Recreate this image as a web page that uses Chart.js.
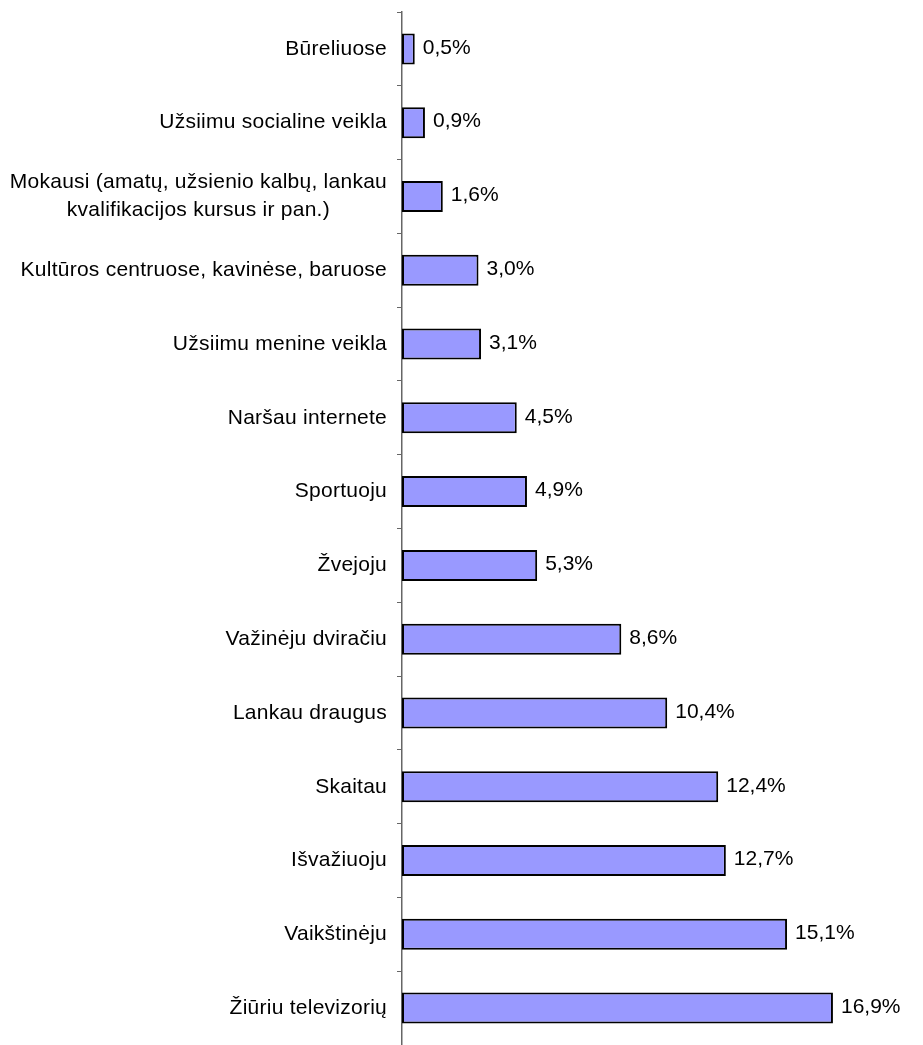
<!DOCTYPE html>
<html>
<head>
<meta charset="utf-8">
<script src="https://cdn.jsdelivr.net/npm/chart.js@4"></script>
<style>
  html, body { margin: 0; padding: 0; background: #fff; }
  #wrap { width: 923px; height: 1045px; }
</style>
</head>
<body>
<div id="wrap"><canvas id="activityChart"></canvas></div>
<script>
// categories, top to bottom
const categories = [
  ["Būreliuose"],
  ["Užsiimu socialine veikla"],
  ["Mokausi (amatų, užsienio kalbų, lankau", "kvalifikacijos kursus ir pan.)"],
  ["Kultūros centruose, kavinėse, baruose"],
  ["Užsiimu menine veikla"],
  ["Naršau internete"],
  ["Sportuoju"],
  ["Žvejoju"],
  ["Važinėju dviračiu"],
  ["Lankau draugus"],
  ["Skaitau"],
  ["Išvažiuoju"],
  ["Vaikštinėju"],
  ["Žiūriu televizorių"]
];
const shares = [0.5, 0.9, 1.6, 3.0, 3.1, 4.5, 4.9, 5.3, 8.6, 10.4, 12.4, 12.7, 15.1, 16.9];

const FONT = "21px 'Liberation Sans', Arial, sans-serif";

// category labels, each line centred in its block like the original
const categoryLabels = {
  id: "categoryLabels",
  afterDraw(chart) {
    const ctx = chart.ctx;
    const yScale = chart.scales.y;
    const right = yScale.right - 15;
    ctx.save();
    ctx.font = FONT;
    ctx.letterSpacing = "0.25px";
    ctx.fillStyle = "#000";
    ctx.textBaseline = "middle";
    ctx.textAlign = "center";
    categories.forEach((lines, i) => {
      const y = yScale.getPixelForValue(i);
      let w = 0;
      lines.forEach(l => { w = Math.max(w, ctx.measureText(l).width); });
      const cx = right - w / 2;
      const lh = 28;
      const y0 = y - (lines.length - 1) * lh / 2;
      lines.forEach((l, j) => ctx.fillText(l, cx, y0 + j * lh));
    });
    ctx.restore();
  }
};

// value labels after each bar
const valueLabels = {
  id: "valueLabels",
  afterDatasetsDraw(chart) {
    const ctx = chart.ctx;
    const meta = chart.getDatasetMeta(0);
    ctx.save();
    ctx.font = FONT;
    ctx.fillStyle = "#000";
    ctx.textBaseline = "middle";
    ctx.textAlign = "left";
    meta.data.forEach((bar, i) => {
      const txt = shares[i].toFixed(1).replace(".", ",") + "%";
      ctx.fillText(txt, bar.x + 8, bar.y - 1);
    });
    ctx.restore();
  }
};

new Chart(document.getElementById("activityChart"), {
  type: "bar",
  data: {
    labels: categories.map(c => c.join(" ")),
    datasets: [{
      data: shares,
      backgroundColor: "#9999ff",
      borderColor: "#000",
      borderWidth: 2,
      borderSkipped: false,
      categoryPercentage: 1,
      barPercentage: 0.42
    }]
  },
  options: {
    indexAxis: "y",
    responsive: true,
    maintainAspectRatio: false,
    animation: false,
    layout: { padding: { top: 12, right: 11, bottom: 0, left: 0 } },
    plugins: {
      legend: { display: false },
      tooltip: { enabled: false }
    },
    scales: {
      x: {
        display: false,
        min: 0,
        max: 20
      },
      y: {
        afterFit(scale) { scale.width = 402; },
        border: { display: true, color: "#666", width: 1.5 },
        grid: {
          offset: true,
          drawOnChartArea: false,
          drawTicks: true,
          tickLength: 5,
          color: "#666",
          lineWidth: 1
        },
        ticks: { display: false }
      }
    }
  },
  plugins: [categoryLabels, valueLabels]
});
</script>
</body>
</html>
